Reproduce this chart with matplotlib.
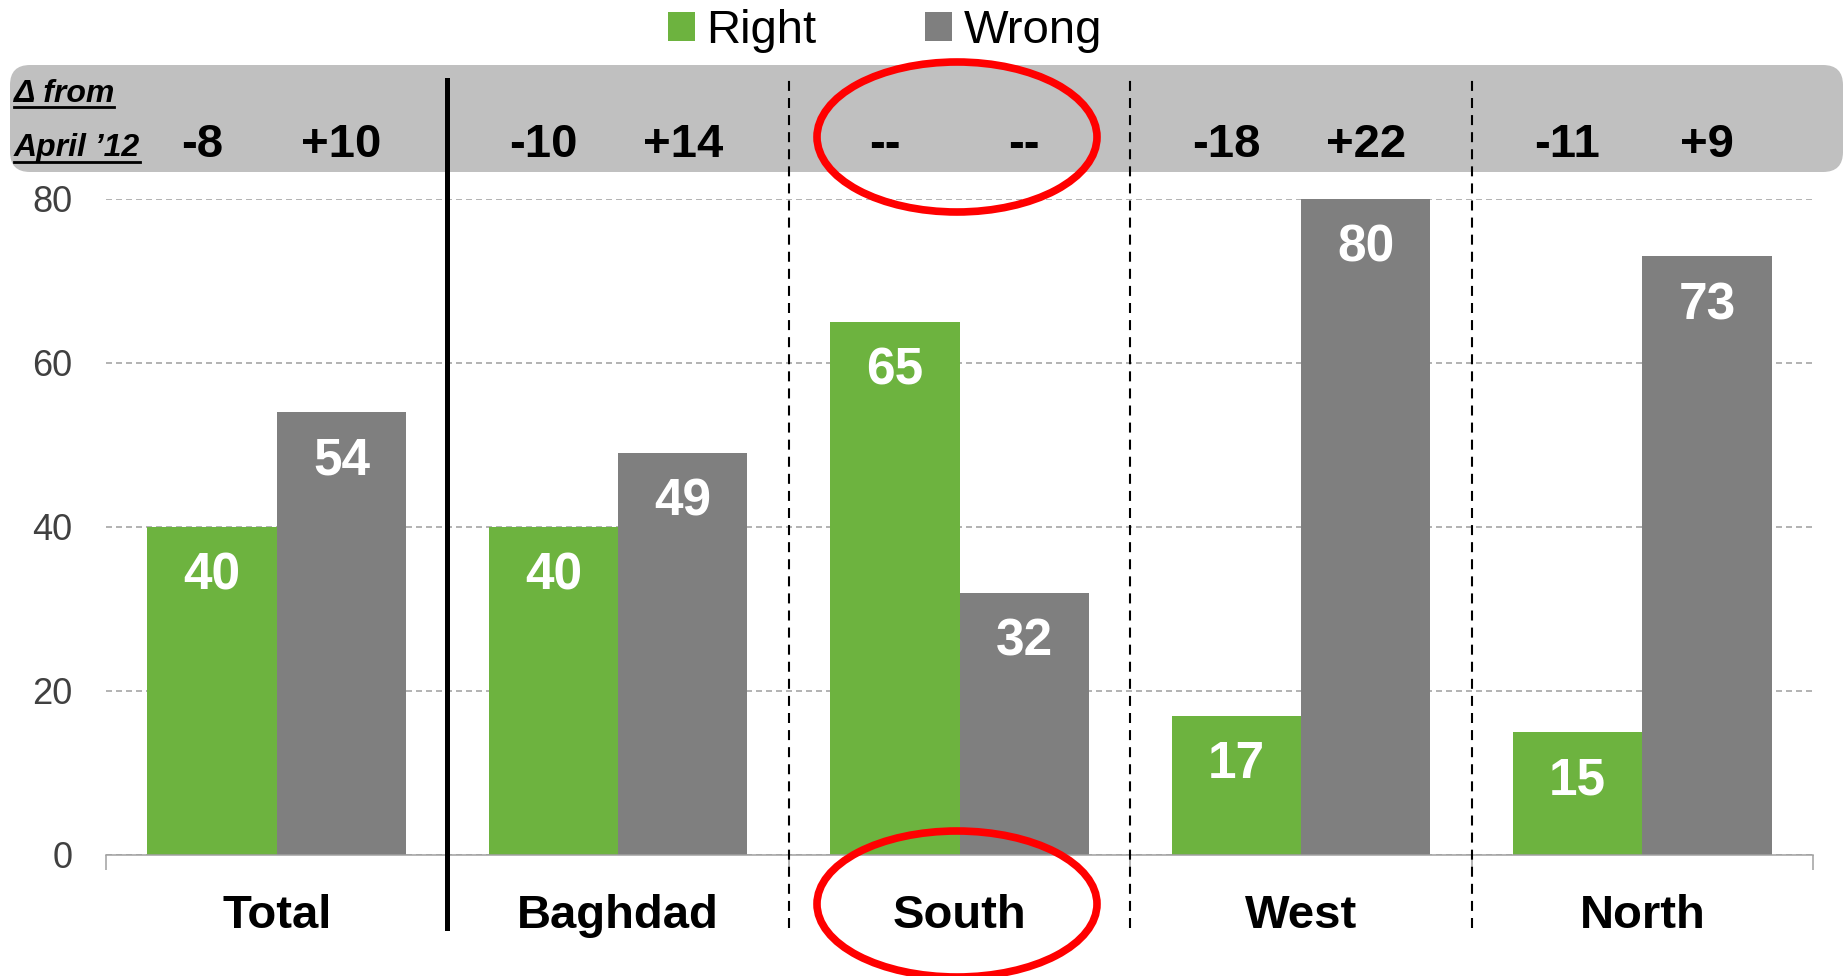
#!/usr/bin/env python3
"""
Right / Wrong direction by region, with change from April '12 header band
"""

import numpy as np
import matplotlib
matplotlib.use('Agg')
import matplotlib.pyplot as plt
from matplotlib.patches import FancyBboxPatch, Ellipse
from matplotlib.transforms import blended_transform_factory

plt.rcParams['font.family'] = ['Liberation Sans', 'DejaVu Sans']

# data
regions = ['Total', 'Baghdad', 'South', 'West', 'North']
right = [40, 40, 65, 17, 15]
wrong = [54, 49, 32, 80, 73]
delta_right = ['-8', '-10', '--', '-18', '-11']
delta_wrong = ['+10', '+14', '--', '+22', '+9']
y_ticks = [0, 20, 40, 60, 80]

GREEN = '#6DB33F'
GREY = '#7F7F7F'
BAND = '#C0C0C0'

W, H = 1845, 976
fig = plt.figure(figsize=(W / 100, H / 100), dpi=100)

# background overlay in pixel coords (header band)
bg = fig.add_axes([0, 0, 1, 1], zorder=-1)
bg.set_xlim(0, W)
bg.set_ylim(H, 0)
bg.axis('off')
bg.add_patch(FancyBboxPatch((10 + 20, 65 + 20), 1833 - 40, 107 - 40,
                            boxstyle='round,pad=20,rounding_size=20',
                            facecolor=BAND, edgecolor='none'))

# main axes
ax = fig.add_axes([106 / W, 1 - 855 / H, (1813 - 106) / W, (855 - 199) / H], zorder=0)
ax.patch.set_alpha(0)

x = np.arange(len(regions))
bw = 0.379
b1 = ax.bar(x - bw / 2, right, bw, color=GREEN, label='Right', zorder=2)
b2 = ax.bar(x + bw / 2, wrong, bw, color=GREY, label='Wrong', zorder=2)

for xi, v in zip(x - bw / 2, right):
    ax.text(xi, v - 6.0, str(v), ha='center', va='center', color='white',
            fontsize=37, fontweight='bold', zorder=3)
for xi, v in zip(x + bw / 2, wrong):
    ax.text(xi, v - 6.0, str(v), ha='center', va='center', color='white',
            fontsize=37, fontweight='bold', zorder=3)

ax.set_xlim(-0.5, len(regions) - 0.5)
ax.set_ylim(0, 80)
ax.set_yticks(y_ticks)
ax.set_yticklabels([str(t) for t in y_ticks], fontsize=26, color='#404040')
ax.tick_params(axis='y', length=0, pad=24)

ax.set_xticks(x)
ax.set_xticklabels(regions, fontsize=34, fontweight='bold')
ax.tick_params(axis='x', which='major', length=0, pad=28)
ax.set_xticks(np.arange(len(regions) + 1) - 0.5, minor=True)
ax.tick_params(axis='x', which='minor', length=10.8, width=1.1, color='#A0A0A0')

ax.yaxis.grid(True, color='#A6A6A6', linewidth=1.2, dashes=(3.6, 2.4))
ax.set_axisbelow(True)
for s in ['top', 'right', 'left']:
    ax.spines[s].set_visible(False)
ax.spines['bottom'].set_color('#A0A0A0')
ax.spines['bottom'].set_linewidth(1.1)

# group separators, running through the header band and the labels
trans = blended_transform_factory(ax.transData, ax.transAxes)
seps = np.arange(1, len(regions)) - 0.5
ax.plot([seps[0], seps[0]], [-0.111, 1.181], color='black', lw=3.6,
        transform=trans, clip_on=False, zorder=4)
for sx in seps[1:]:
    ax.plot([sx, sx], [-0.111, 1.181], color='black', lw=1.5, dashes=(4.8, 3.4),
            transform=trans, clip_on=False, zorder=4)

# header deltas
for xi, d in zip(x - bw / 2, delta_right):
    ax.text(xi - 0.03, 1.082, d, transform=trans, ha='center', va='center',
            fontsize=34, fontweight='bold')
for xi, d in zip(x + bw / 2, delta_wrong):
    ax.text(xi + 0.0, 1.082, d, transform=trans, ha='center', va='center',
            fontsize=34, fontweight='bold')

# legend
ax.legend(handles=[b1, b2], loc='center', bbox_to_anchor=(885 / W, 1 - 31 / H),
          bbox_transform=fig.transFigure, ncol=2, frameon=False, fontsize=34,
          handlelength=0.57, handleheight=0.57, handletextpad=0.24,
          columnspacing=2.3, borderpad=0)

# front overlay: header caption and red ellipses
fg = fig.add_axes([0, 0, 1, 1], zorder=5)
fg.set_xlim(0, W)
fg.set_ylim(H, 0)
fg.axis('off')
fg.patch.set_alpha(0)

t1 = fg.text(14, 102, '\u0394 from', fontsize=23, fontweight='bold', style='italic',
             va='baseline', ha='left')
t2 = fg.text(14, 156, 'April \u201912', fontsize=23, fontweight='bold', style='italic',
             va='baseline', ha='left')
fig.canvas.draw()
inv = fg.transData.inverted()
for t, yl in [(t1, 107), (t2, 162)]:
    bb = t.get_window_extent()
    (x0, _), (x1, _) = inv.transform([(bb.x0, bb.y0), (bb.x1, bb.y1)])
    fg.plot([x0, x1], [yl, yl], color='black', lw=2)

fg.add_patch(Ellipse((957, 137), 280, 150, fill=False, edgecolor='#FF0000', lw=5.5))
fg.add_patch(Ellipse((957, 904), 280, 146, fill=False, edgecolor='#FF0000', lw=5.5))

fig.savefig('out.png', dpi=100)
